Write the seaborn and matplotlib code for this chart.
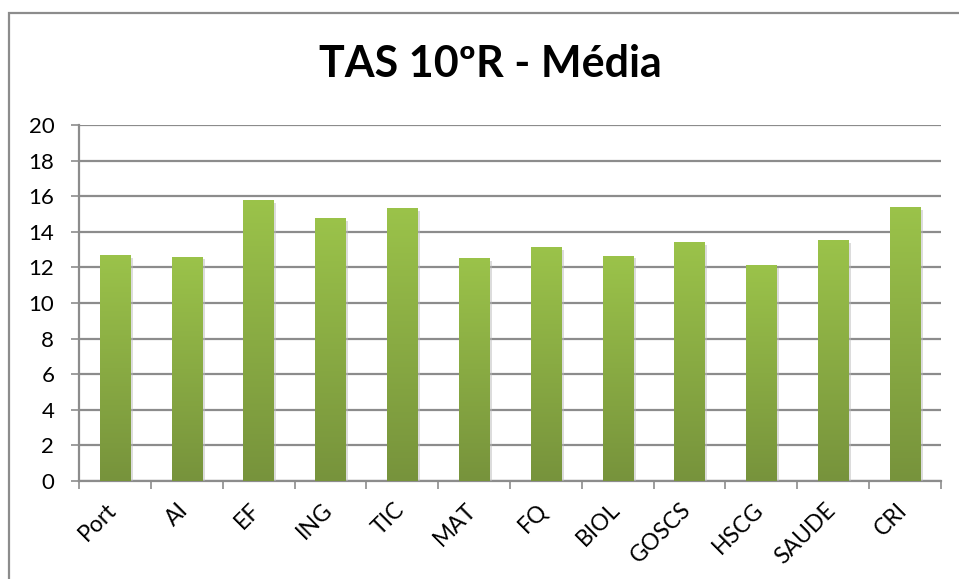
import numpy as np
import pandas as pd
import matplotlib
matplotlib.use("Agg")
import matplotlib.pyplot as plt
import seaborn as sns
from matplotlib.colors import LinearSegmentedColormap
from matplotlib.patches import Rectangle
from matplotlib.transforms import ScaledTranslation
import matplotlib.patheffects as pe

categories = ["Port", "AI", "EF", "ING", "TIC", "MAT", "FQ", "BIOL", "GOSCS", "HSCG", "SAUDE", "CRI"]
values = [12.71, 12.60, 15.79, 14.78, 15.34, 12.54, 13.16, 12.66, 13.44, 12.15, 13.55, 15.40]
yticks = [0, 2, 4, 6, 8, 10, 12, 14, 16, 18, 20]
title = "TAS 10ºR - Média"

df = pd.DataFrame({"cat": categories, "val": values})

sns.set_style("white")
plt.rcParams['font.family'] = ['Lato', 'DejaVu Sans']
plt.rcParams['text.color'] = 'black'
plt.rcParams['xtick.labelcolor'] = 'black'
plt.rcParams['ytick.labelcolor'] = 'black'

W, H = 959, 579
fig = plt.figure(figsize=(W / 100, H / 100), dpi=100)
ax = fig.add_axes([79 / W, 1 - 481 / H, (941 - 79) / W, (481 - 125) / H])

sns.barplot(data=df, x="cat", y="val", color="#9bbb59", width=0.42, ax=ax, zorder=3)

ax.set_xlim(-0.5, len(categories) - 0.5)
ax.set_ylim(0, 20)

# gradient fill for bars
cmap = LinearSegmentedColormap.from_list("g", ["#77933c", "#9bc34a"])
grad = np.linspace(0, 1, 256).reshape(-1, 1)
for p in list(ax.patches):
    x0, y0 = p.get_x(), p.get_y()
    w, h = p.get_width(), p.get_height()
    p.set_path_effects([pe.SimplePatchShadow(offset=(2, -2), shadow_rgbFace="#bbbbbb", alpha=0.5)])
    im = ax.imshow(grad, cmap=cmap, origin="lower", aspect="auto",
                   extent=[x0, x0 + w, y0, y0 + h], zorder=4)
    im.set_clip_path(p)
ax.set_xlim(-0.5, len(categories) - 0.5)
ax.set_ylim(0, 20)

ax.set_yticks(yticks)
ax.set_yticklabels([str(v) for v in yticks], fontsize=16, color="black")
ax.yaxis.grid(True, color="#8c8c8c", linewidth=1.6, zorder=0)
ax.set_axisbelow(True)

ax.set_xticks(range(len(categories)))
ax.set_xticklabels(categories, rotation=45, ha="right", rotation_mode="anchor", fontsize=16.5, color="black")
ax.set_xticks(np.arange(-0.5, len(categories), 1), minor=True)
ax.tick_params(axis="x", which="major", length=0, pad=13)
ax.tick_params(axis="x", which="minor", length=5.8, width=1.2, color="#8c8c8c", direction="out", bottom=True)
ax.tick_params(axis="y", which="major", length=5.8, width=1.2, color="#8c8c8c", direction="out", left=True, pad=12)

offset = ScaledTranslation(-9 / 100, 0, fig.dpi_scale_trans)
for lbl in ax.get_xticklabels():
    lbl.set_transform(lbl.get_transform() + offset)

ax.set_xlabel("")
ax.set_ylabel("")
for s in ["top", "right"]:
    ax.spines[s].set_visible(False)
for s in ["left", "bottom"]:
    ax.spines[s].set_color("#8c8c8c")
    ax.spines[s].set_linewidth(1.6)

fig.text(490 / W, 1 - 64 / H, title, ha="center", va="center", fontsize=31,
         fontweight="bold", color="black")

# outer chart border
fig.patches.append(Rectangle((9 / W, -0.1), 1.1, 1 - 13 / H + 0.1, transform=fig.transFigure,
                             fill=False, edgecolor="#8c8c8c", linewidth=1.6))

fig.savefig("out.png", dpi=100)
